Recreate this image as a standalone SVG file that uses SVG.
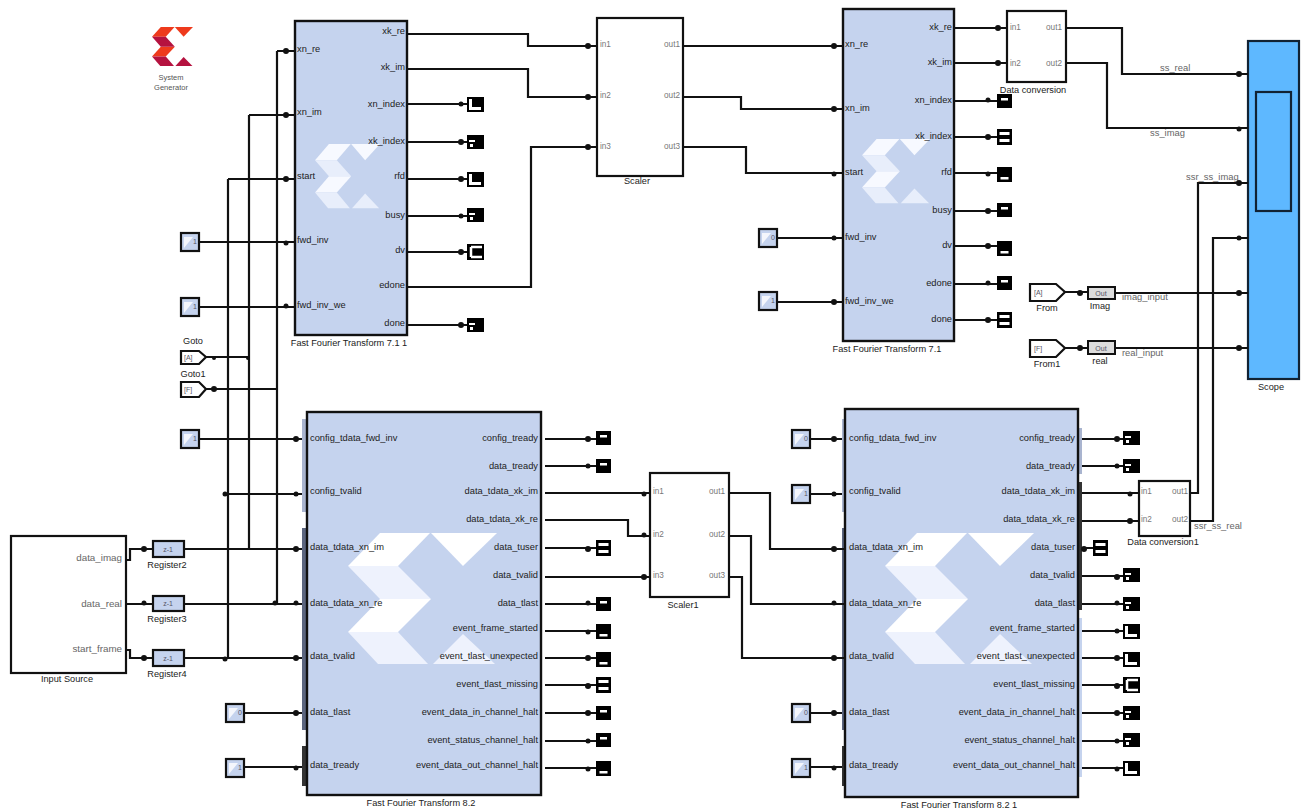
<svg xmlns="http://www.w3.org/2000/svg" width="1301" height="812" viewBox="0 0 1301 812">
<style>
text{font-family:"Liberation Sans",Arial,sans-serif;font-size:9.2px;fill:#222}
.p{font-size:9.3px;fill:#222}
.e{text-anchor:end}
.m{text-anchor:middle}
.g{font-size:8.2px;fill:#777}
.l{font-size:9.4px;fill:#666}
.n{font-size:9.8px;fill:#666}
.v{font-size:7px;fill:#556}
.f{fill:#c5d3ee;stroke:#111;stroke-width:2.4}
.w{fill:#fff;stroke:#111;stroke-width:2.2}
.c{fill:#c5d3ee;stroke:#111;stroke-width:2.2}
.b{fill:#dcdcdc;stroke:#111;stroke-width:2}
.s{fill:#5eb8ff;stroke:#123;stroke-width:2.2}
#wires path{fill:none;stroke:#111;stroke-width:2.2}
#wires circle{fill:#111;stroke:none}
</style>
<defs>
<g id="x1"><polygon points="32,0 82,0 50,33 0,33"/><polygon points="32,66 83,66 50,99 0,99"/><polygon points="83,0 149,0 115,33"/></g>
<g id="x2"><polygon points="0,33 50,33 83,66 32,66"/><polygon points="0,99 50,99 80,131 30,131"/><polygon points="115,101 147,131 85,131"/></g>
<g id="s1"><rect width="15" height="14" fill="#000"/><rect x="4" y="4" width="7" height="2.5" fill="#fff"/></g>
<g id="s2"><rect width="15" height="16" fill="#000"/><rect x="2.5" y="3" width="10" height="3" fill="#fff"/><rect x="2.5" y="10" width="10" height="3" fill="#fff"/></g>
<g id="s3"><rect width="15" height="15" fill="#000"/><rect x="3.5" y="10" width="8" height="2.5" fill="#fff"/></g>
<g id="s4"><rect width="17" height="14" fill="#000"/><rect x="2" y="5" width="6" height="2" fill="#fff"/><rect x="3" y="9" width="3" height="3" fill="#fff"/></g>
<g id="s5"><rect width="17" height="15" fill="#000"/><rect x="2" y="2" width="3" height="11" fill="#fff"/><rect x="2" y="10" width="12" height="3" fill="#fff"/></g>
<g id="s6"><rect width="17" height="16" fill="#000"/><path d="M4 3h11M4 3v10M4 13h11" stroke="#fff" stroke-width="2.5" fill="none"/></g>
<g id="k"><rect class="c" width="18" height="18"/><polygon points="3,15 12,4 3,4" fill="#fff" opacity=".8"/></g>
</defs>
<rect width="1301" height="812" fill="#fff"/>

<g id="logo">
<use href="#x1" transform="translate(152 27) scale(.275 .298)" fill="#ee3a1c"/>
<use href="#x2" transform="translate(152 27) scale(.275 .298)" fill="#b5123f"/>
<text class="m" x="171" y="80" style="font-size:7.5px;fill:#555">System</text>
<text class="m" x="171" y="90" style="font-size:7.5px;fill:#555">Generator</text>
</g>

<g id="fft-711">
<rect class="f" x="295" y="21" width="112" height="314"/>
<use href="#x1" transform="translate(315 144) scale(.436 .49)" fill="#f7f9ff"/>
<use href="#x2" transform="translate(315 144) scale(.436 .49)" fill="#e8eefb"/>
<text class="p" x="297" y="52">xn_re</text><text class="p" x="297" y="115">xn_im</text><text class="p" x="297" y="179">start</text><text class="p" x="297" y="243">fwd_inv</text><text class="p" x="297" y="308">fwd_inv_we</text>
<text class="p e" x="405" y="34">xk_re</text><text class="p e" x="405" y="70">xk_im</text><text class="p e" x="405" y="107">xn_index</text><text class="p e" x="405" y="144">xk_index</text><text class="p e" x="405" y="179">rfd</text><text class="p e" x="405" y="218">busy</text><text class="p e" x="405" y="253">dv</text><text class="p e" x="405" y="288">edone</text><text class="p e" x="405" y="326">done</text>
<text class="m" x="349" y="346">Fast Fourier Transform 7.1 1</text>
</g>

<g id="fft-71">
<rect class="f" x="843" y="9" width="111" height="332"/>
<use href="#x1" transform="translate(862 139) scale(.456 .49)" fill="#f7f9ff"/>
<use href="#x2" transform="translate(862 139) scale(.456 .49)" fill="#e8eefb"/>
<text class="p" x="845" y="47">xn_re</text><text class="p" x="845" y="111">xn_im</text><text class="p" x="845" y="175">start</text><text class="p" x="845" y="240">fwd_inv</text><text class="p" x="845" y="304">fwd_inv_we</text>
<text class="p e" x="952" y="30">xk_re</text><text class="p e" x="952" y="65">xk_im</text><text class="p e" x="952" y="103">xn_index</text><text class="p e" x="952" y="139">xk_index</text><text class="p e" x="952" y="175">rfd</text><text class="p e" x="952" y="213">busy</text><text class="p e" x="952" y="248">dv</text><text class="p e" x="952" y="286">edone</text><text class="p e" x="952" y="322">done</text>
<text class="m" x="887" y="352">Fast Fourier Transform 7.1</text>
</g>

<g id="fft-82">
<rect x="302" y="419" width="5" height="93" fill="#a9b4cf"/><rect x="302" y="528" width="5" height="202" fill="#5c6680"/><rect x="302" y="746" width="5" height="40" fill="#333"/>
<rect class="f" x="307" y="412" width="234" height="383"/>
<use href="#x1" transform="translate(348 533)" fill="#fff"/>
<use href="#x2" transform="translate(348 533)" fill="#eef2fd"/>
<text class="p" x="310" y="441">config_tdata_fwd_inv</text><text class="p" x="310" y="494">config_tvalid</text><text class="p" x="310" y="550">data_tdata_xn_im</text><text class="p" x="310" y="606">data_tdata_xn_re</text><text class="p" x="310" y="659">data_tvalid</text><text class="p" x="310" y="715">data_tlast</text><text class="p" x="310" y="768">data_tready</text>
<text class="p e" x="538" y="441">config_tready</text><text class="p e" x="538" y="469">data_tready</text><text class="p e" x="538" y="494">data_tdata_xk_im</text><text class="p e" x="538" y="522">data_tdata_xk_re</text><text class="p e" x="538" y="550">data_tuser</text><text class="p e" x="538" y="578">data_tvalid</text><text class="p e" x="538" y="606">data_tlast</text><text class="p e" x="538" y="631">event_frame_started</text><text class="p e" x="538" y="659">event_tlast_unexpected</text><text class="p e" x="538" y="687">event_tlast_missing</text><text class="p e" x="538" y="715">event_data_in_channel_halt</text><text class="p e" x="538" y="743">event_status_channel_halt</text><text class="p e" x="538" y="768">event_data_out_channel_halt</text>
<text class="m" x="421" y="806">Fast Fourier Transform 8.2</text>
</g>

<g id="fft-821">
<rect x="842" y="419" width="3" height="93" fill="#a9b4cf"/><rect x="842" y="528" width="3" height="202" fill="#5c6680"/><rect x="842" y="746" width="3" height="40" fill="#333"/>
<rect x="1079" y="428" width="3" height="46" fill="#a9b4cf"/><rect x="1079" y="482" width="3" height="128" fill="#333"/><rect x="1079" y="618" width="3" height="159" fill="#c5d3ee"/>
<rect class="f" x="845" y="409" width="233" height="388"/>
<use href="#x1" transform="translate(885 533)" fill="#fff"/>
<use href="#x2" transform="translate(885 533)" fill="#eef2fd"/>
<text class="p" x="849" y="441">config_tdata_fwd_inv</text><text class="p" x="849" y="494">config_tvalid</text><text class="p" x="849" y="550">data_tdata_xn_im</text><text class="p" x="849" y="606">data_tdata_xn_re</text><text class="p" x="849" y="659">data_tvalid</text><text class="p" x="849" y="715">data_tlast</text><text class="p" x="849" y="768">data_tready</text>
<text class="p e" x="1075" y="441">config_tready</text><text class="p e" x="1075" y="469">data_tready</text><text class="p e" x="1075" y="494">data_tdata_xk_im</text><text class="p e" x="1075" y="522">data_tdata_xk_re</text><text class="p e" x="1075" y="550">data_tuser</text><text class="p e" x="1075" y="578">data_tvalid</text><text class="p e" x="1075" y="606">data_tlast</text><text class="p e" x="1075" y="631">event_frame_started</text><text class="p e" x="1075" y="659">event_tlast_unexpected</text><text class="p e" x="1075" y="687">event_tlast_missing</text><text class="p e" x="1075" y="715">event_data_in_channel_halt</text><text class="p e" x="1075" y="743">event_status_channel_halt</text><text class="p e" x="1075" y="768">event_data_out_channel_halt</text>
<text class="m" x="959" y="808">Fast Fourier Transform 8.2 1</text>
</g>

<g id="scaler">
<rect class="w" x="597" y="18" width="86" height="158"/>
<text class="g" x="600" y="47">in1</text><text class="g" x="600" y="98">in2</text><text class="g" x="600" y="149">in3</text><text class="g e" x="680" y="47">out1</text><text class="g e" x="680" y="98">out2</text><text class="g e" x="680" y="149">out3</text>
<text class="m" x="637" y="184">Scaler</text>
</g>
<g id="scaler1">
<rect class="w" x="650" y="473" width="79" height="124"/>
<text class="g" x="653" y="494">in1</text><text class="g" x="653" y="537">in2</text><text class="g" x="653" y="578">in3</text><text class="g e" x="725" y="494">out1</text><text class="g e" x="725" y="537">out2</text><text class="g e" x="725" y="578">out3</text>
<text class="m" x="683" y="608">Scaler1</text>
</g>
<g id="data-conversion">
<rect class="w" x="1007" y="11" width="59" height="71"/>
<text class="g" x="1010" y="30">in1</text><text class="g" x="1010" y="66">in2</text><text class="g e" x="1062" y="30">out1</text><text class="g e" x="1062" y="66">out2</text>
<text class="m" x="1033" y="93">Data conversion</text>
</g>
<g id="data-conversion1">
<rect class="w" x="1139" y="481" width="51" height="55"/>
<text class="g" x="1141" y="494">in1</text><text class="g" x="1141" y="522">in2</text><text class="g e" x="1188" y="494">out1</text><text class="g e" x="1188" y="522">out2</text>
<text class="m" x="1163" y="545">Data conversion1</text>
</g>
<g id="scope">
<rect class="s" x="1248" y="41" width="51" height="338"/>
<rect class="s" x="1256" y="92" width="35" height="119"/>
<text class="m" x="1271" y="390">Scope</text>
</g>
<g id="input-source">
<rect class="w" x="11" y="536" width="115" height="137"/>
<text class="n e" x="122" y="561">data_imag</text><text class="n e" x="122" y="607">data_real</text><text class="n e" x="122" y="652">start_frame</text>
<text class="m" x="67" y="682">Input Source</text>
</g>
<g id="register2"><rect class="c" x="153" y="541" width="31" height="16"/><text class="v m" x="168" y="552">z-1</text><text class="m" x="167" y="568">Register2</text></g>
<g id="register3"><rect class="c" x="153" y="596" width="31" height="15"/><text class="v m" x="168" y="606">z-1</text><text class="m" x="167" y="622">Register3</text></g>
<g id="register4"><rect class="c" x="153" y="650" width="31" height="16"/><text class="v m" x="168" y="661">z-1</text><text class="m" x="167" y="677">Register4</text></g>
<g id="goto"><polygon class="w" points="181,351 199,351 206,357 199,364 181,364"/><text class="v" x="184" y="360">[A]</text><text class="m" x="193" y="344">Goto</text></g>
<g id="goto1"><polygon class="w" points="181,382 199,382 206,389 199,397 181,397"/><text class="v" x="184" y="392">[F]</text><text class="m" x="193" y="377">Goto1</text></g>
<g id="from"><polygon class="w" points="1030,284 1056,284 1065,292 1056,301 1030,301"/><text class="v" x="1034" y="295">[A]</text><text class="m" x="1047" y="311">From</text></g>
<g id="from1"><polygon class="w" points="1030,340 1056,340 1065,348 1056,357 1030,357"/><text class="v" x="1034" y="351">[F]</text><text class="m" x="1047" y="367">From1</text></g>
<g id="gateway-imag"><rect class="b" x="1088" y="287" width="27" height="12"/><text class="v m" x="1101" y="296">Out</text><text class="m" x="1100" y="309">Imag</text></g>
<g id="gateway-real"><rect class="b" x="1088" y="341" width="27" height="13"/><text class="v m" x="1101" y="351">Out</text><text class="m" x="1100" y="364">real</text></g>

<g id="constants">
<g id="c1"><use href="#k" x="181" y="233"/><text class="v" x="193" y="244">1</text></g>
<g id="c2"><use href="#k" x="181" y="298"/><text class="v" x="193" y="309">1</text></g>
<g id="c3"><use href="#k" x="181" y="430"/><text class="v" x="193" y="441">1</text></g>
<g id="c4"><use href="#k" x="226" y="704"/><text class="v" x="238" y="715">0</text></g>
<g id="c5"><use href="#k" x="226" y="759"/><text class="v" x="238" y="770">1</text></g>
<g id="c6"><use href="#k" x="759" y="229"/><text class="v" x="771" y="240">0</text></g>
<g id="c7"><use href="#k" x="759" y="292"/><text class="v" x="771" y="303">1</text></g>
<g id="c8"><use href="#k" x="792" y="430"/><text class="v" x="804" y="441">0</text></g>
<g id="c9"><use href="#k" x="792" y="485"/><text class="v" x="804" y="496">1</text></g>
<g id="c10"><use href="#k" x="792" y="704"/><text class="v" x="804" y="715">0</text></g>
<g id="c11"><use href="#k" x="792" y="759"/><text class="v" x="804" y="770">1</text></g>
</g>

<g id="terminators">
<use href="#s5" x="467" y="97"/><use href="#s4" x="467" y="135"/><use href="#s5" x="467" y="172"/><use href="#s4" x="467" y="208"/><use href="#s6" x="467" y="244"/><use href="#s4" x="467" y="318"/>
<use href="#s1" x="997" y="94"/><use href="#s2" x="997" y="129"/><use href="#s3" x="997" y="167"/><use href="#s1" x="997" y="203"/><use href="#s3" x="997" y="241"/><use href="#s1" x="997" y="276"/><use href="#s2" x="997" y="312"/>
<use href="#s1" x="596" y="431"/><use href="#s1" x="596" y="459"/><use href="#s2" x="596" y="540"/><use href="#s1" x="596" y="597"/><use href="#s3" x="596" y="624"/><use href="#s3" x="596" y="652"/><use href="#s2" x="596" y="677"/><use href="#s1" x="596" y="706"/><use href="#s1" x="596" y="733"/><use href="#s3" x="596" y="761"/>
<use href="#s4" x="1123" y="431"/><use href="#s4" x="1123" y="459"/><use href="#s2" x="1093" y="540"/><use href="#s4" x="1123" y="568"/><use href="#s4" x="1123" y="597"/><use href="#s5" x="1123" y="624"/><use href="#s5" x="1123" y="652"/><use href="#s6" x="1123" y="677"/><use href="#s4" x="1123" y="706"/><use href="#s4" x="1123" y="733"/><use href="#s5" x="1123" y="761"/>
</g>

<g id="wire-labels">
<text class="l" x="1160" y="71">ss_real</text><text class="l" x="1150" y="136">ss_imag</text><text class="l" x="1186" y="180">ssr_ss_imag</text><text class="l" x="1194" y="529">ssr_ss_real</text><text class="l" x="1122" y="300">imag_input</text><text class="l" x="1122" y="356">real_input</text>
</g>

<g id="wires">
<path d="M277 51H295M249 115H295M228 179H295M200 242H295M200 307H295"/>
<path d="M277 51V604M249 115V549M228 179V658"/>
<path d="M206 357H249M206 389H277M200 439H302M228 494H302"/>
<path d="M126 560H130V549H153M126 604H153M126 650H130V658H153"/>
<path d="M184 549H302M184 604H302M184 658H302M245 713H302M245 767H302"/>
<path d="M407 34H528V46H597M407 69H528V97H597M407 287H531V147H597"/>
<path d="M407 104H467M407 142H467M407 179H467M407 216H467M407 252H467M407 325H467"/>
<path d="M683 46H843M683 97H741V109H843M683 147H746V173H843M777 238H843M777 302H843"/>
<path d="M954 28H1007M954 63H1007M954 101H997M954 137H997M954 173H997M954 211H997M954 246H997M954 284H997M954 320H997"/>
<path d="M1066 28H1122V74H1248M1066 63H1107V128H1248"/>
<path d="M1065 292H1088M1115 293H1248M1065 348H1088M1115 348H1248"/>
<path d="M545 439H596M545 466H596M545 548H596M545 604H596M545 631H596M545 658H596M545 685H596M545 713H596M545 741H596M545 768H596"/>
<path d="M545 493H650M545 520H628V536H650M545 577H650"/>
<path d="M729 493H770V549H845M729 536H751V604H845M729 577H742V658H845"/>
<path d="M810 439H842M810 494H842M810 713H842M810 767H842"/>
<path d="M1082 439H1123M1082 466H1123M1082 493H1139M1082 521H1139M1082 548H1093M1082 576H1123M1082 604H1123M1082 631H1123M1082 658H1123M1082 685H1123M1082 713H1123M1082 741H1123M1082 768H1123"/>
<path d="M1190 493H1198V183H1248M1190 521H1213V238H1248"/>
<g id="dots">
<circle cx="286" cy="51" r="3"/><circle cx="286" cy="115" r="3"/><circle cx="286" cy="179" r="3"/><circle cx="286" cy="243" r="2.5"/><circle cx="286" cy="306" r="2.5"/>
<circle cx="461" cy="104" r="2.5"/><circle cx="461" cy="142" r="3"/><circle cx="461" cy="179" r="3"/><circle cx="461" cy="216" r="2.5"/><circle cx="461" cy="252" r="3"/><circle cx="461" cy="325" r="3"/>
<circle cx="588" cy="46" r="3"/><circle cx="588" cy="97" r="3"/><circle cx="588" cy="147" r="3"/>
<circle cx="834" cy="46" r="3"/><circle cx="834" cy="109" r="3"/><circle cx="834" cy="174" r="2.5"/><circle cx="834" cy="238" r="2.5"/><circle cx="834" cy="302" r="3"/>
<circle cx="998" cy="28" r="3"/><circle cx="998" cy="63" r="3"/>
<circle cx="988" cy="100" r="2.5"/><circle cx="988" cy="137" r="3"/><circle cx="988" cy="174" r="2.5"/><circle cx="988" cy="211" r="3"/><circle cx="988" cy="246" r="3"/><circle cx="988" cy="283" r="2.5"/><circle cx="988" cy="320" r="3"/>
<circle cx="1239" cy="74" r="3"/><circle cx="1239" cy="129" r="2.5"/><circle cx="1239" cy="183" r="3"/><circle cx="1239" cy="238" r="2.5"/><circle cx="1239" cy="293" r="3"/><circle cx="1239" cy="348" r="3"/>
<circle cx="1080" cy="293" r="3"/><circle cx="1080" cy="348" r="3"/>
<circle cx="214" cy="358" r="2"/><circle cx="214" cy="389" r="3"/><circle cx="248" cy="358" r="2"/><circle cx="225" cy="494" r="2.5"/><circle cx="275" cy="603" r="2.5"/><circle cx="225" cy="659" r="2.5"/>
<circle cx="144" cy="549" r="3"/><circle cx="144" cy="603" r="2.5"/><circle cx="144" cy="658" r="3"/>
<circle cx="296" cy="439" r="3"/><circle cx="296" cy="494" r="2.5"/><circle cx="296" cy="549" r="3"/><circle cx="296" cy="603" r="2.5"/><circle cx="296" cy="658" r="3"/><circle cx="296" cy="713" r="3"/><circle cx="296" cy="768" r="2.5"/>
<circle cx="588" cy="439" r="3"/><circle cx="588" cy="466" r="2.5"/><circle cx="588" cy="549" r="3"/><circle cx="588" cy="603" r="2.5"/><circle cx="588" cy="632" r="2.5"/><circle cx="588" cy="658" r="3"/><circle cx="588" cy="686" r="3"/><circle cx="588" cy="713" r="3"/><circle cx="588" cy="741" r="2.5"/><circle cx="588" cy="769" r="2.5"/>
<circle cx="644" cy="494" r="2.5"/><circle cx="644" cy="535" r="2.5"/><circle cx="644" cy="577" r="3"/>
<circle cx="834" cy="439" r="3"/><circle cx="834" cy="494" r="2.5"/><circle cx="834" cy="549" r="3"/><circle cx="834" cy="603" r="2.5"/><circle cx="834" cy="658" r="3"/><circle cx="834" cy="713" r="3"/><circle cx="834" cy="768" r="2.5"/>
<circle cx="1117" cy="439" r="3"/><circle cx="1117" cy="466" r="2.5"/><circle cx="1130" cy="494" r="2.5"/><circle cx="1130" cy="521" r="3"/><circle cx="1084" cy="549" r="3"/><circle cx="1117" cy="577" r="3"/><circle cx="1117" cy="603" r="2.5"/><circle cx="1117" cy="631" r="2.5"/><circle cx="1117" cy="658" r="3"/><circle cx="1117" cy="686" r="3"/><circle cx="1117" cy="713" r="3"/><circle cx="1117" cy="741" r="2.5"/><circle cx="1117" cy="769" r="2.5"/>
</g>
</g>
</svg>
